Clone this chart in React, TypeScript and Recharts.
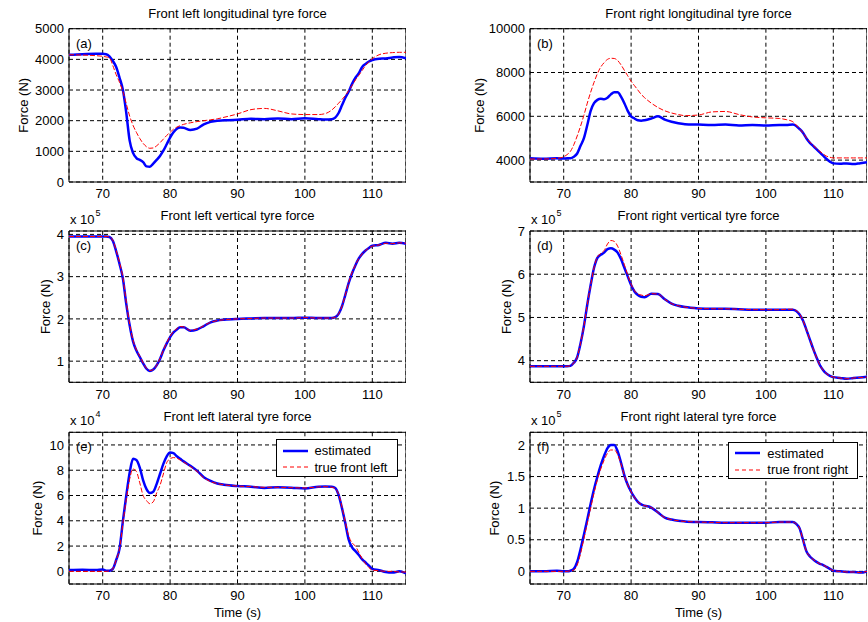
import React from 'react';
import { LineChart, Line, XAxis, YAxis, CartesianGrid, ReferenceArea, Legend } from 'recharts';

const FONT = '"Liberation Sans", Arial, Helvetica, sans-serif';

// time base (s), shared by every panel
const time = [
  65, 67, 69, 70, 70.5, 71, 71.5, 72, 72.5, 73,
  73.5, 74, 74.5, 75, 75.5, 76, 76.5, 77, 77.5, 78,
  78.5, 79, 79.5, 80, 80.5, 81, 81.5, 82, 83, 84,
  85, 86, 87, 88, 90, 92, 94, 96, 98, 100,
  102, 103, 104, 104.5, 105, 105.5, 106, 106.5, 107, 107.5,
  108, 108.5, 109, 109.5, 110, 111, 112, 113, 114, 115,
];
const timeTicks = [70, 80, 90, 100, 110];

// (a) front left longitudinal, N
const estA = [
  4150, 4170, 4180, 4180, 4170, 4100, 3950, 3750, 3400, 3000,
  2250, 1350, 950, 780, 720, 650, 510, 500, 600, 720,
  850, 1020, 1230, 1450, 1620, 1740, 1780, 1770, 1700, 1740,
  1880, 1960, 2000, 2010, 2030, 2060, 2050, 2070, 2050, 2080,
  2050, 2040, 2050, 2100, 2250, 2500, 2750, 2950, 3200, 3400,
  3550, 3750, 3850, 3930, 3980, 4020, 4030, 4060, 4080, 4030,
];
const trueA = [
  4150, 4140, 4120, 4100, 4080, 4050, 3800, 3500, 3250, 2950,
  2550, 2150, 1850, 1620, 1420, 1260, 1150, 1100, 1110, 1180,
  1280, 1400, 1520, 1620, 1720, 1790, 1840, 1880, 1930, 1970,
  2000, 2030, 2060, 2110, 2220, 2360, 2400, 2320, 2220, 2200,
  2200, 2230, 2350, 2450, 2570, 2690, 2820, 2980, 3150, 3330,
  3480, 3640, 3800, 3920, 4020, 4150, 4200, 4220, 4230, 4230,
];
const ticksA = [0, 1000, 2000, 3000, 4000, 5000];

// (b) front right longitudinal, N
const estB = [
  4080, 4060, 4080, 4070, 4080, 4080, 4150, 4300, 4650, 5000,
  5600, 6250, 6600, 6750, 6800, 6780, 6850, 7000, 7100, 7100,
  6900, 6600, 6250, 6000, 5900, 5820, 5800, 5820, 5900, 6000,
  5850, 5750, 5680, 5640, 5620, 5600, 5620, 5580, 5600, 5580,
  5600, 5600, 5620, 5560, 5420, 5250, 5000, 4800, 4650, 4500,
  4350, 4200, 4050, 3930, 3850, 3830, 3850, 3820, 3860, 3900,
];
const trueB = [
  4050, 4050, 4080, 4150, 4250, 4400, 4700, 5100, 5550, 6050,
  6600, 7100, 7550, 7950, 8250, 8450, 8600, 8650, 8640, 8550,
  8350, 8100, 7850, 7600, 7400, 7200, 7000, 6850, 6600, 6400,
  6250, 6150, 6080, 6030, 6060, 6200, 6220, 6080, 5970, 5930,
  5900, 5850, 5750, 5600, 5420, 5250, 5020, 4830, 4680, 4530,
  4400, 4280, 4180, 4130, 4100, 4100, 4100, 4100, 4100, 4100,
];
const ticksB = [4000, 6000, 8000, 10000];

// (c) front left vertical, x 10^5 N
const estC = [
  3.95, 3.95, 3.95, 3.95, 3.95, 3.94, 3.85, 3.6, 3.3, 2.95,
  2.35, 1.85, 1.47, 1.25, 1.1, 0.95, 0.82, 0.77, 0.8, 0.9,
  1.05, 1.25, 1.42, 1.57, 1.68, 1.75, 1.8, 1.8, 1.72, 1.75,
  1.83, 1.92, 1.96, 1.98, 2.0, 2.01, 2.02, 2.02, 2.02, 2.03,
  2.02, 2.02, 2.02, 2.04, 2.12, 2.3, 2.57, 2.85, 3.08, 3.27,
  3.43, 3.54, 3.62, 3.68, 3.73, 3.75, 3.8, 3.78, 3.8, 3.78,
];
const trueC = [
  3.95, 3.95, 3.95, 3.95, 3.95, 3.94, 3.86, 3.62, 3.33, 2.98,
  2.4, 1.88, 1.5, 1.27, 1.12, 0.96, 0.83, 0.78, 0.8, 0.9,
  1.06, 1.26, 1.44, 1.59, 1.7, 1.77, 1.82, 1.81, 1.73, 1.76,
  1.84, 1.92, 1.96, 1.98, 2.0, 2.01, 2.02, 2.02, 2.02, 2.03,
  2.02, 2.02, 2.02, 2.04, 2.12, 2.3, 2.57, 2.86, 3.1, 3.28,
  3.43, 3.54, 3.62, 3.68, 3.72, 3.75, 3.79, 3.78, 3.8, 3.79,
];
const ticksC = [1, 2, 3, 4];

// (d) front right vertical, x 10^5 N
const estD = [
  3.87, 3.87, 3.87, 3.87, 3.87, 3.88, 3.95, 4.08, 4.4, 4.8,
  5.3, 5.75, 6.15, 6.38, 6.45, 6.5, 6.58, 6.6, 6.57, 6.5,
  6.35, 6.15, 5.95, 5.75, 5.6, 5.52, 5.48, 5.47, 5.55, 5.54,
  5.42, 5.32, 5.27, 5.24, 5.21, 5.2, 5.2, 5.19, 5.18, 5.18,
  5.18, 5.18, 5.18, 5.15, 5.07, 4.93, 4.72, 4.5, 4.28, 4.08,
  3.9, 3.78, 3.7, 3.65, 3.62, 3.6, 3.58, 3.6, 3.61, 3.63,
];
const trueD = [
  3.87, 3.87, 3.87, 3.87, 3.87, 3.88, 3.95, 4.08, 4.4, 4.8,
  5.3, 5.75, 6.15, 6.4, 6.48, 6.55, 6.7, 6.78, 6.76, 6.65,
  6.45, 6.22, 5.98, 5.77, 5.62, 5.54, 5.52, 5.5, 5.55, 5.54,
  5.42, 5.32, 5.27, 5.24, 5.21, 5.2, 5.2, 5.19, 5.18, 5.18,
  5.18, 5.19, 5.19, 5.16, 5.08, 4.93, 4.72, 4.5, 4.28, 4.08,
  3.9, 3.78, 3.7, 3.65, 3.62, 3.6, 3.58, 3.6, 3.61, 3.62,
];
const ticksD = [4, 5, 6, 7];

// (e) front left lateral, x 10^4 N
const estE = [
  0.1, 0.12, 0.1, 0.15, 0.05, 0.05, 0.2, 0.9, 1.8, 4.0,
  6.0, 7.8, 8.9, 8.8, 8.2, 7.2, 6.5, 6.2, 6.3, 6.9,
  7.7, 8.5, 9.1, 9.4, 9.35, 9.1, 8.9, 8.7, 8.35, 7.95,
  7.45, 7.15, 6.95, 6.85, 6.75, 6.7, 6.6, 6.65, 6.62, 6.55,
  6.7, 6.72, 6.7, 6.6, 6.05, 5.0, 3.8, 2.5, 1.9, 1.6,
  1.3, 0.95, 0.7, 0.45, 0.2, 0.1, -0.05, -0.1, 0.0, -0.15,
];
const trueE = [
  0, 0, 0, 0, 0, 0.05, 0.2, 0.9, 1.8, 3.8,
  5.7, 7.3, 8.1, 7.9, 7.0, 6.0, 5.6, 5.35, 5.5, 6.2,
  6.8, 7.7, 8.6, 8.9, 9.0, 8.95, 8.8, 8.65, 8.3, 7.9,
  7.4, 7.1, 6.95, 6.85, 6.75, 6.7, 6.65, 6.65, 6.62, 6.6,
  6.68, 6.7, 6.65, 6.55, 6.1, 5.1, 3.9, 2.8, 2.25, 2.0,
  1.5, 1.0, 0.6, 0.3, 0.1, 0.05, 0, 0, -0.05, -0.05,
];
const ticksE = [0, 2, 4, 6, 8, 10];

// (f) front right lateral, x 10^5 N
const estF = [
  0, 0, 0.01, 0, 0, 0.01, 0.04, 0.15, 0.35, 0.58,
  0.82, 1.07, 1.3, 1.5, 1.68, 1.83, 1.95, 2.0, 2.0, 1.9,
  1.72, 1.52, 1.37, 1.26, 1.17, 1.1, 1.06, 1.04, 1.01, 0.93,
  0.85, 0.82, 0.8, 0.79, 0.78, 0.775, 0.77, 0.77, 0.77, 0.77,
  0.78, 0.78, 0.78, 0.75, 0.68, 0.5, 0.32, 0.24, 0.19, 0.15,
  0.12, 0.1, 0.07, 0.04, 0.01, 0, -0.01, -0.01, -0.02, 0,
];
const trueF = [
  0, 0, 0, 0, 0, 0.01, 0.02, 0.1, 0.28, 0.52,
  0.76, 1.0, 1.24, 1.45, 1.62, 1.76, 1.87, 1.92, 1.92, 1.85,
  1.7, 1.52, 1.37, 1.26, 1.17, 1.1, 1.06, 1.04, 1.01, 0.93,
  0.85, 0.82, 0.8, 0.79, 0.78, 0.775, 0.77, 0.77, 0.77, 0.77,
  0.78, 0.78, 0.78, 0.75, 0.68, 0.5, 0.32, 0.24, 0.19, 0.15,
  0.12, 0.1, 0.07, 0.04, 0.01, 0, -0.01, -0.01, -0.02, 0,
];
const ticksF = [0, 0.5, 1, 1.5, 2];

type PanelDef = {
  title: string;
  letter: string;
  exponent?: string;
  est: number[];
  truth: number[];
  trueName: string;
  yDomain: [number, number];
  yTicks: number[];
  plotLeft: number;
  plotTop: number;
  plotW: number;
  plotH: number;
  yAxisW: number;
  labelGap: number;
  wrapTop: number;
  wrapH: number;
  legendBox?: { x: number; y: number; w: number; h: number; rows: number[] };
  timeLabel?: boolean;
};

const panels: PanelDef[] = [
  {
    title: 'Front left longitudinal tyre force', letter: '(a)', est: estA, truth: trueA,
    trueName: 'true front left', yDomain: [0, 5000], yTicks: ticksA,
    plotLeft: 69, plotTop: 28.7, plotW: 337, plotH: 153.3, yAxisW: 69, labelGap: 45, wrapTop: 0, wrapH: 204,
  },
  {
    title: 'Front right longitudinal tyre force', letter: '(b)', est: estB, truth: trueB,
    trueName: 'true front right', yDomain: [3000, 10000], yTicks: ticksB,
    plotLeft: 530, plotTop: 28.7, plotW: 337, plotH: 153.3, yAxisW: 100, labelGap: 50, wrapTop: 0, wrapH: 204,
  },
  {
    title: 'Front left vertical tyre force', letter: '(c)', exponent: '5', est: estC, truth: trueC,
    trueName: 'true front left', yDomain: [0.5, 4.08], yTicks: ticksC,
    plotLeft: 69, plotTop: 231, plotW: 337, plotH: 151.3, yAxisW: 69, labelGap: 23, wrapTop: 204, wrapH: 198,
  },
  {
    title: 'Front right vertical tyre force', letter: '(d)', exponent: '5', est: estD, truth: trueD,
    trueName: 'true front right', yDomain: [3.5, 7], yTicks: ticksD,
    plotLeft: 530, plotTop: 231, plotW: 337, plotH: 151.3, yAxisW: 100, labelGap: 23.5, wrapTop: 204, wrapH: 198,
  },
  {
    title: 'Front left lateral tyre force', letter: '(e)', exponent: '4', est: estE, truth: trueE,
    trueName: 'true front left', yDomain: [-1, 11], yTicks: ticksE,
    plotLeft: 69, plotTop: 432.3, plotW: 337, plotH: 151.7, yAxisW: 69, labelGap: 31, wrapTop: 402, wrapH: 220,
    legendBox: { x: 275.5, y: 439, w: 122.5, h: 37.5, rows: [10.5, 27] }, timeLabel: true,
  },
  {
    title: 'Front right lateral tyre force', letter: '(f)', exponent: '5', est: estF, truth: trueF,
    trueName: 'true front right', yDomain: [-0.2, 2.2], yTicks: ticksF,
    plotLeft: 530, plotTop: 432.3, plotW: 337, plotH: 151.7, yAxisW: 100, labelGap: 35, wrapTop: 402, wrapH: 220,
    legendBox: { x: 728.3, y: 441.7, w: 130, h: 37.6, rows: [10.5, 27] }, timeLabel: true,
  },
];

const tickStyle = { fill: '#000', fontSize: 13, fontFamily: FONT };

function makeForceLabel(gap: number) {
  return function ForceLabel(props: any) {
    const vb = props.viewBox;
    if (!vb) return null;
    const x = vb.x + vb.width - gap;
    const y = vb.y + vb.height / 2;
    return (
      <text x={x} y={y} transform={`rotate(-90 ${x} ${y})`} textAnchor="middle" dominantBaseline="central"
        fontSize={13} fontFamily={FONT} fill="#000">
        Force (N)
      </text>
    );
  };
}

function TimeLabel(props: any) {
  const vb = props.viewBox;
  if (!vb) return null;
  return (
    <text x={vb.x + vb.width / 2} y={vb.y + 28} textAnchor="middle" dominantBaseline="central"
      fontSize={13} fontFamily={FONT} fill="#000">
      Time (s)
    </text>
  );
}

function makeLegendBox(rows: number[]) {
  return function LegendBox({ payload }: any) {
    return (
      <div style={{ position: 'relative', width: '100%', height: '100%', boxSizing: 'border-box', border: '1px solid #000', background: '#fff' }}>
        {(payload ?? []).map((entry: any, i: number) => {
          const isEst = entry.dataKey === 'est';
          return (
            <div key={i} style={{ position: 'absolute', left: 0, top: rows[i] - 8, height: 16, display: 'flex', alignItems: 'center', fontFamily: FONT, fontSize: 13, whiteSpace: 'nowrap', color: '#000' }}>
              <svg width={38} height={16} style={{ display: 'block' }}>
                <line x1={6} x2={31} y1={8} y2={8} stroke={entry.color} strokeWidth={isEst ? 2.5 : 1.2}
                  strokeDasharray={isEst ? undefined : '4 3'} />
              </svg>
              <span>{entry.value}</span>
            </div>
          );
        })}
      </div>
    );
  };
}

function Panel({ p }: { p: PanelDef }) {
  const rows = time.map((t, i) => ({ t, est: p.est[i], truth: p.truth[i] }));
  const wrapLeft = p.plotLeft - p.yAxisW;
  const width = p.yAxisW + p.plotW;
  const marginTop = p.plotTop - p.wrapTop;
  const xAxisH = p.wrapH - marginTop - p.plotH;
  return (
    <>
      <div style={{ position: 'absolute', left: wrapLeft, top: p.wrapTop }}>
        <LineChart width={width} height={p.wrapH} data={rows} margin={{ top: marginTop, right: 0, bottom: 0, left: 0 }}>
          <CartesianGrid stroke="#000" strokeDasharray="4 3" strokeWidth={1} />
          <XAxis dataKey="t" type="number" domain={[65, 115]} ticks={timeTicks} allowDataOverflow
            height={xAxisH} tickLine={false} tickSize={5} tickMargin={2} axisLine={false} tick={tickStyle}
            label={p.timeLabel ? { content: TimeLabel } : undefined} />
          <YAxis type="number" domain={p.yDomain} ticks={p.yTicks} allowDataOverflow width={p.yAxisW}
            tickLine={false} tickSize={3} tickMargin={2} axisLine={false} tick={tickStyle}
            label={{ content: makeForceLabel(p.labelGap) }} />
          <ReferenceArea x1={65} x2={115} y1={p.yDomain[0]} y2={p.yDomain[1]} fill="none" fillOpacity={0}
            stroke="#000" strokeWidth={1} />
          <Line type="monotone" dataKey="est" name="estimated" stroke="#0000ff" strokeWidth={2.5}
            dot={false} isAnimationActive={false} />
          <Line type="monotone" dataKey="truth" name={p.trueName} stroke="#ff0000" strokeWidth={1}
            strokeDasharray="5 2" dot={false} isAnimationActive={false} />
          {p.legendBox && (
            <Legend layout="horizontal" verticalAlign="middle" align="center"
              wrapperStyle={{ left: p.legendBox.x - wrapLeft, top: p.legendBox.y - p.wrapTop, width: p.legendBox.w, height: p.legendBox.h }}
              content={makeLegendBox(p.legendBox.rows)} />
          )}
        </LineChart>
      </div>
      <div style={{ position: 'absolute', left: p.plotLeft, width: p.plotW, top: p.plotTop - 22, lineHeight: '14px', textAlign: 'center', fontSize: 13, fontFamily: FONT, color: '#000' }}>
        {p.title}
      </div>
      <div style={{ position: 'absolute', left: p.plotLeft + 7, top: p.plotTop + 8, lineHeight: '14px', fontSize: 13, fontFamily: FONT, color: '#000' }}>
        {p.letter}
      </div>
      {p.exponent && (
        <div style={{ position: 'absolute', left: p.plotLeft + 1, top: p.plotTop - 18, lineHeight: '14px', fontSize: 13, fontFamily: FONT, color: '#000', whiteSpace: 'nowrap' }}>
          x 10<span style={{ fontSize: 9, position: 'relative', top: -8, marginLeft: 1 }}>{p.exponent}</span>
        </div>
      )}
    </>
  );
}

export default function App() {
  return (
    <div style={{ position: 'absolute', left: 0, top: 0, width: 868, height: 622, background: '#fff', overflow: 'hidden' }}>
      {panels.map((p) => (
        <Panel key={p.letter} p={p} />
      ))}
    </div>
  );
}
